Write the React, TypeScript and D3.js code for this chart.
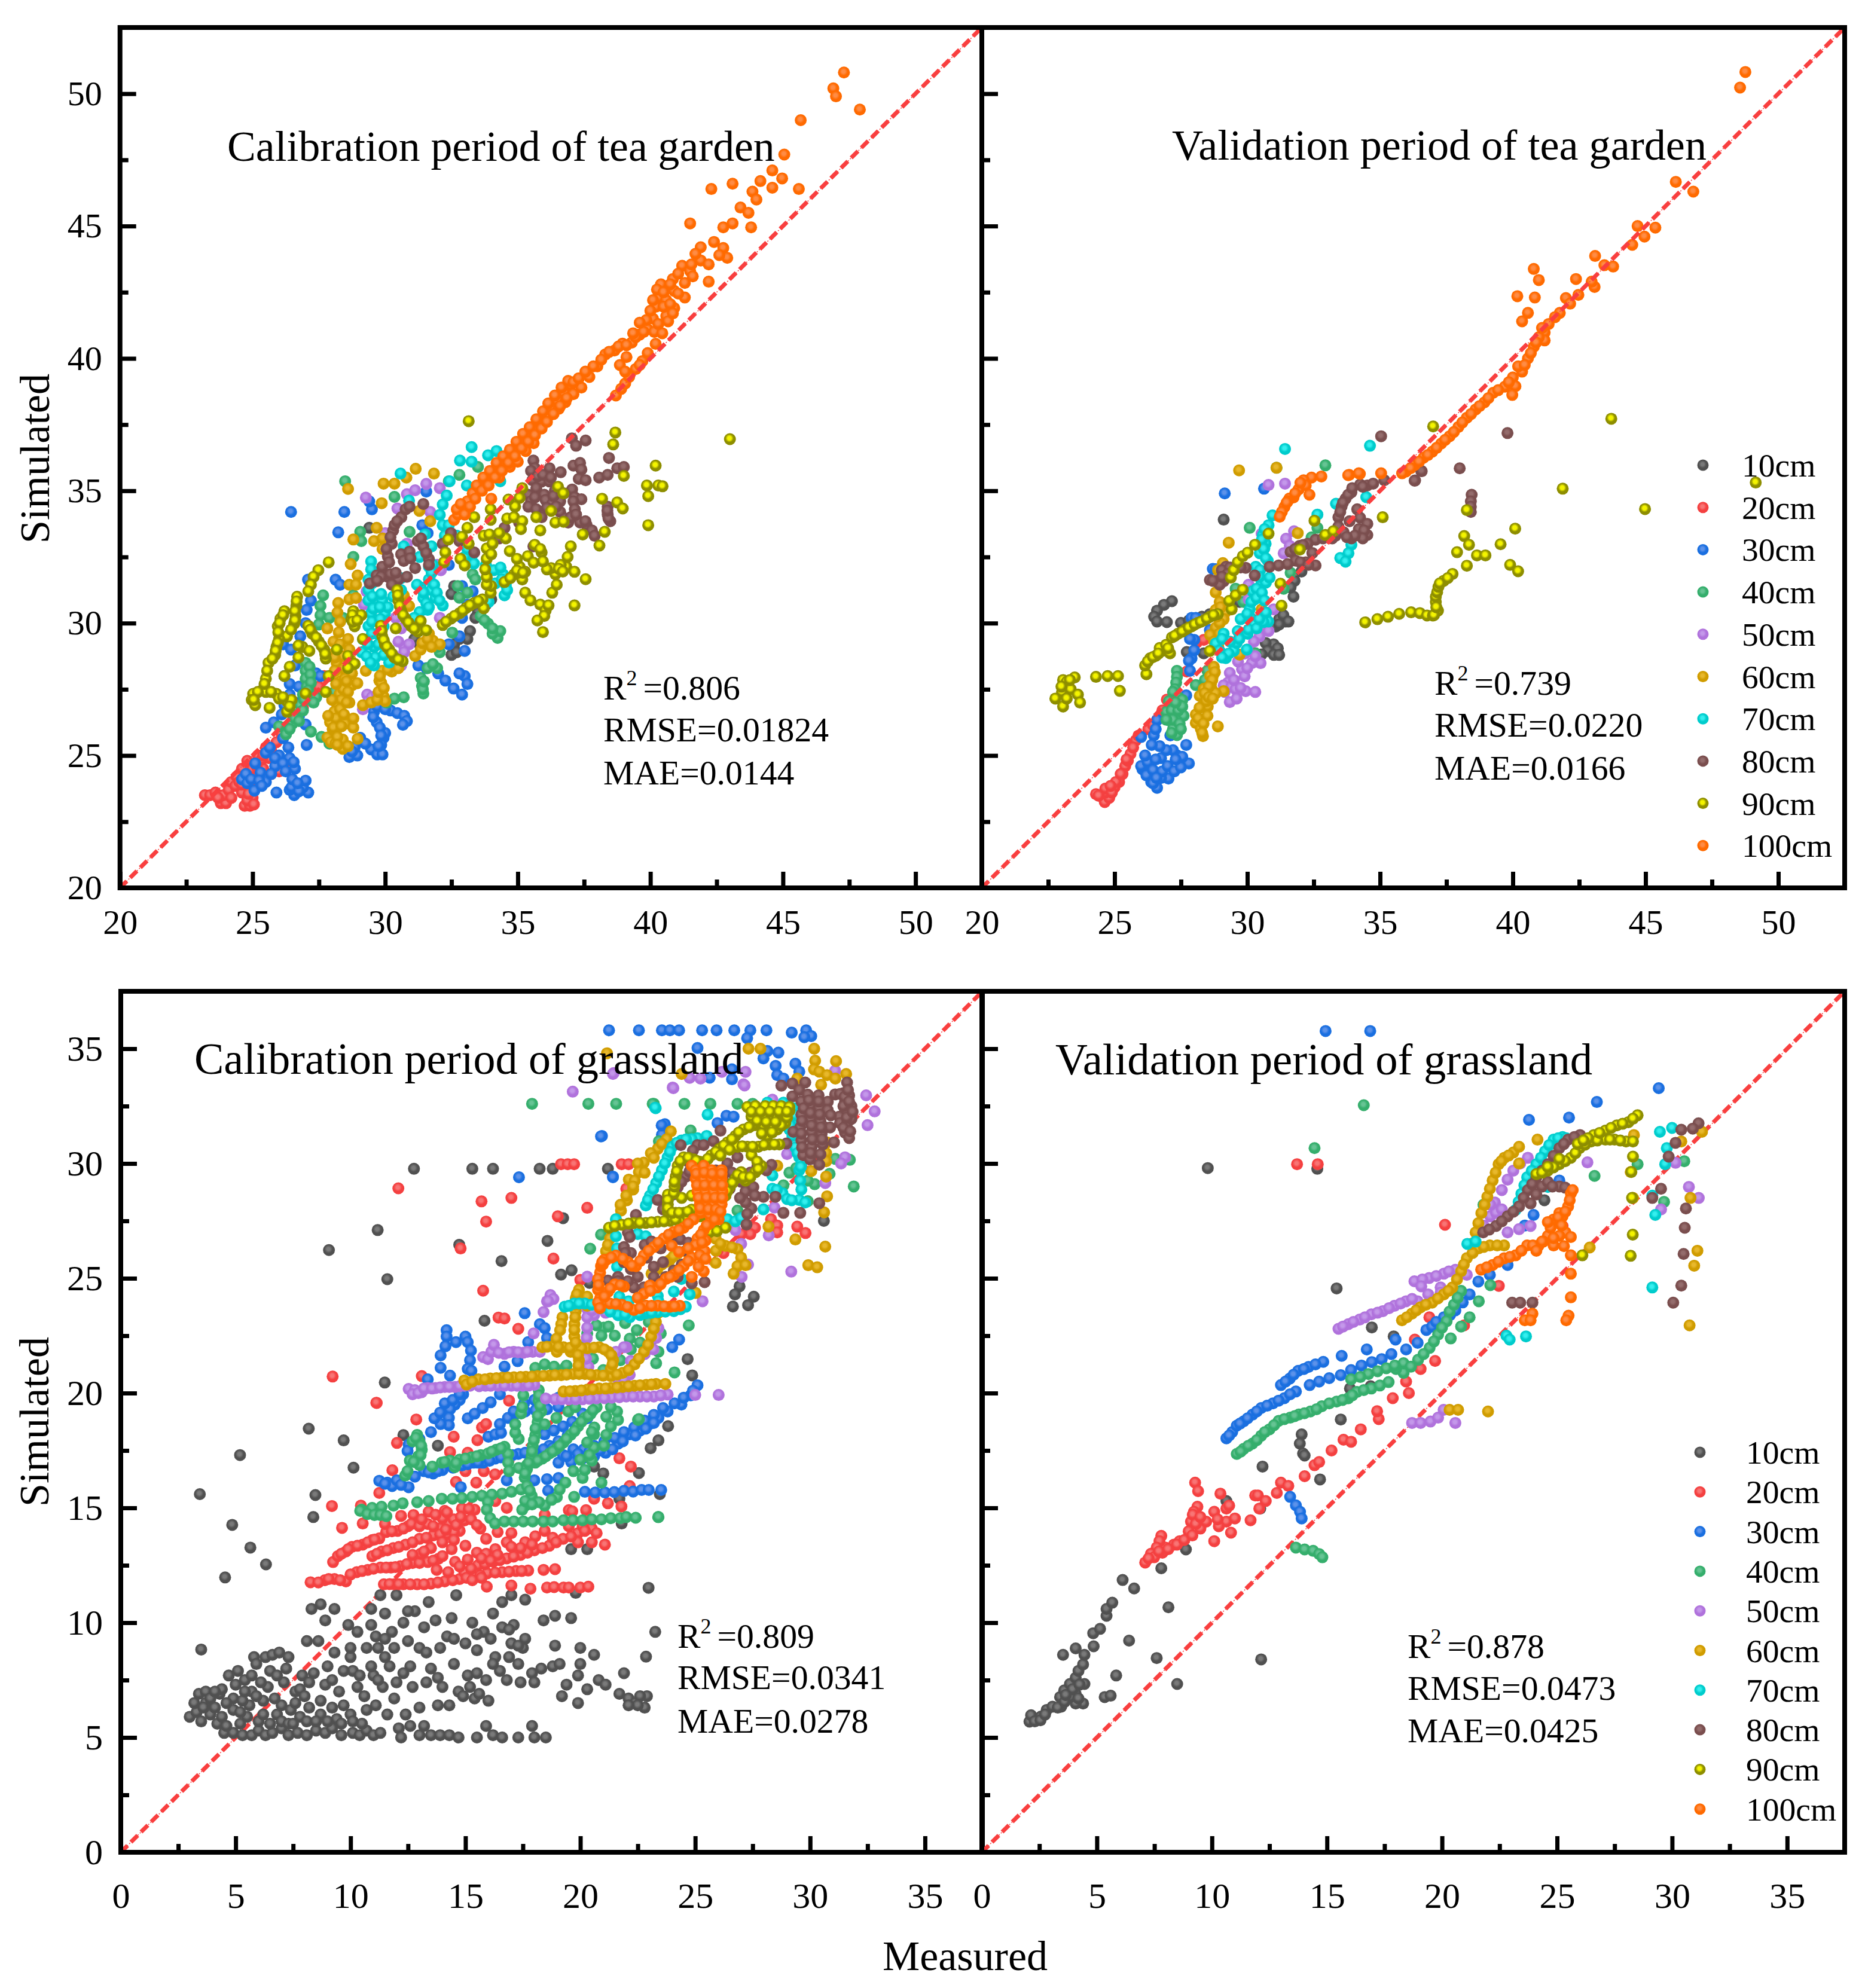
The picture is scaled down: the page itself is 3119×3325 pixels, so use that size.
import React, { useEffect, useRef } from 'react';
import * as d3 from 'd3';

const W = 3119;
const H = 3325;
const FONT = '"Liberation Serif", "Times New Roman", serif';

const depths = ['10cm', '20cm', '30cm', '40cm', '50cm', '60cm', '70cm', '80cm', '90cm', '100cm'];
const baseColors = ['#505050', '#f44040', '#1a6fe0', '#35ae6c', '#b072dc', '#d09c00', '#00cccc', '#7a4e4e', '#8e8e00', '#ff6a00'];
const glowColors = ['#7a7a7a', '#f87575', '#5c92ea', '#66c494', '#c498ea', '#e8b82c', '#35efef', '#946c6c', '#f4f400', '#ff8c45'];

// flat lists: measured, simulated, measured, simulated ...
const teaCal10 = [33.2,29.7,33.1,29.4,32.8,29.4,32.6,29.2,32.5,28.8,32.7,28.9,31.1,29.4,31.3,29.2,29.4,33.6,32.6,31.4,32.5,31.1,33.8,30.7,33.5,30.4,34,30.9,33.4,30.2];
const teaCal20 = [23.2,23.5,23.4,23.5,23.6,23.6,23.8,23.2,24,23.2,23.9,23.5,24.1,23.7,24.2,24,24.4,24.2,24.6,24.5,24.8,24.8,24.7,23.1,24.9,23.1,25,23.4,24.6,23.6,24.9,23.8,25.2,24.2,25.4,24.5,25.6,24.9,25.2,25,25.5,25.3,25.9,25.5,26.1,25.8,26.3,26.1,26.6,26.4,26.9,26.8,27.2,27.3,27.5,27.6,27.7,28,26,24.4,26.3,24.8,25.7,24.3,
  23.7,23.4,24.2,23.4,24.35,23.85,24.5,24,24.6,23.9,24.75,24.2,25,24.5,24.8,23.3,25.05,23.15,24.85,23.55,25.15,24.6,25.35,24.85,25.4,25,25.7,25.2];
const teaCal30 = [26.45,34.2,28.46,34.2,28.23,33.43,29.5,34.3,29.4,34.6,31.55,34.97,25.9,23.6,26.57,23.5,26.4,23.7,27.1,23.6,26.9,23.8,26.47,23.8,27,24.05,26.5,24.1,26.6,24.5,26.4,24.9,27.04,25.4,26.35,25.3,25.5,25.1,24.6,24.1,24.8,23.95,25.07,23.67,25.1,24.7,25.5,24,25.85,24.6,26,25,25.5,26.05,25.8,26.25,27,26.17,26.2,26.9,26,27.2,26.6,27,27.1,27.2,28.65,24.94,28.95,25,29.47,25.23,29.7,25.04,29.9,25.04,29.94,25.67,30,25.85,29.68,26.26,29.58,26.65,29.7,26.85,30.2,26.7,30.46,26.6,30.72,26.5,30.82,26.3,30.67,26.16,29.06,25.67,28.85,25.3,29.85,25.4,29.8,26.05,32.9,27.3,32.58,27.53,32.27,27.83,33,28,33.1,27.7,32.8,28.1,33,28.95,32.8,29.5,32.4,29.2,32,28.1,31.55,28.3,31.25,28.4,27.09,31.64,28.13,31.64,28.3,31.45,27.2,30.85,27.04,30.5,26.6,28.4,26.2,28,26.4,27.7,27.4,28.1,27.56,28,26.15,29.2,26.45,29,27,30,26.8,29.5,31.4,33.7,31.6,33.4,32.4,32.2,32.9,31.4,33.3,31.2,33.1,30.7,32.9,30.2,32.2,30,
  24.75,24.3,24.95,24.1,25.3,24.35,25.25,24.05,25.7,24.3,25.35,23.85,25.65,25.3,25.85,24.9,26.15,24.7,26.25,24.4,26.55,24.75,26.75,23.65,26.7,23.95,26.15,25.65,26.3,25.95,26.55,26.35,26.75,26.5,26.1,26.55,26.4,27.3,26.75,27.6,29.75,25.35,29.85,25.75,29.55,26.45,30,26.75,28.75,25.15,29.25,25.45];
const teaCal40 = [28.49,35.36,30.35,34.77,33.5,35.9,32.8,35.6,32.4,35.36,28.8,32.5,29.06,33.45,29.1,33.1,30.92,33.45,27.66,31.05,27.56,30.65,27.56,30.3,27.5,29.95,27.9,30.2,27,28.5,27,28.2,27,27.9,27.05,27.6,26.9,27.3,26.8,26.9,26.7,26.55,26.5,26.2,26.26,25.8,26.0,26.1,27.6,25.7,27.9,25.45,30.7,27.2,30.35,27.15,30.05,27,31.44,27.34,31.39,27.63,31.34,27.93,31.6,28.3,31.96,28.3,32.06,28.9,31.96,29.1,32.53,29.64,32.74,31.4,33.1,31.15,32.8,30.96,33.3,31.84,33.4,31.65,33.88,29.98,33.6,30.27,34.24,29.44,34.34,29.7,34.05,29.6,28.8,31.05,28.4,30.2,28.1,27.4,27.2,25.9,
  27.15,28.35,27.18,28.05,27.2,27.75,27.1,27.45,26.95,27.1,26.6,26.4,26.75,26.3,26.4,26,26.9,26.7,27.4,27.2,27.3,27,31.42,27.5,31.46,27.8,31.8,28.45,33.75,30.1,34.05,29.8];
const teaCal50 = [29.27,34.74,30.82,34.87,31.13,35.02,31.55,35.26,32.06,35.1,30.46,34.33,31.7,34.2,30.72,29.1,30.5,29.3,30.9,29.2,30.72,28.9,30.6,28.4,30.3,28.8,29.32,27.3,29.37,27.05,29.16,26.75,29.5,27.2,29.7,27.3,32.06,30.2,31.96,32.2,30.82,33,30,33.4,29.2,30.7,29.3,31.2,31.7,31.6,32.1,32,30.4,30.2,30.6,29.8];
const teaCal60 = [28.6,35.07,29.94,35.27,30.35,35.27,30.8,35.5,31.15,35.83,31.84,35.65,29.87,34.53,31.29,34.24,31.7,33.85,29.68,33.6,28.8,33.16,29.58,33.1,29.9,33.2,29.9,32.8,28.7,32.23,28.96,31.8,28.65,31.45,28.9,31.45,28.65,30.9,28.9,30.95,28.23,30.76,27.82,29.8,28.2,30.4,28.3,30.05,28.05,29.3,28.12,28.9,28.17,28.5,28.23,28,28.33,27.8,28.28,27.33,28.18,26.95,28.08,26.65,27.92,26.26,27.82,25.68,27.95,25.5,28.02,26,28.6,29.4,28.65,29,28.7,28.6,28.75,28.1,28.75,27.65,28.65,27,28.5,26.2,28.4,25.6,28.96,25.63,28.8,26.05,28.4,25.25,28.13,25.45,29.89,28.2,29.78,27.83,29.89,27.53,29.94,27.23,30,27.05,30.25,28.17,30.5,28.3,29.16,26.9,29.47,27,29.7,27.1,31.13,28.76,31.34,29,31.8,29.34,32.06,29.2,31.65,29.6,31.13,29.9,30.9,30.65,30.7,31.05,29.27,28.2,28.95,27.73,29.7,31.6,
  28.25,29.65,28.3,29.2,28.38,28.75,28.45,28.3,28.48,27.9,28.42,27.5,28.35,27.1,28.3,26.75,28.15,26.4,28.05,26.05,28.55,27.8,28.6,27.4,28.55,27,28.45,26.55,28.35,26.1,28.2,25.7,28.2,25.4,28.8,26.4,28.6,25.35,28.1,28.7,28.1,28.2,28.15,27.7,28,27.1,27.85,26.5,29.75,27.4,29.85,27.75,29.8,28,29.95,27.55,30.1,28.25,31.4,29.25,31.6,29.4,31.75,29.1];
const teaCal70 = [33.26,36.65,32.82,36.14,33.26,36.1,33.88,36.34,34.2,36.5,32.43,35.36,33.08,35.2,34.34,35.36,30.58,35.65,30.9,34.63,32.32,34.82,32.17,34.48,32.06,34.09,32.17,33.7,32.25,33.3,31.75,32.9,31.5,33.35,29.47,32.33,29.47,32.03,29.37,31.64,29.37,31.25,29.37,30.86,29.47,30.37,29.37,29.88,29.16,29.39,29.11,28.9,29.58,29.1,29.58,28.4,29.63,28.7,29.89,30.86,29.99,30.37,29.94,29.88,29.89,29.39,30.15,28.51,29.68,30.6,29.72,30.1,29.7,29.6,30.1,30.6,30.3,31,30.6,31.7,31.65,32.13,31.65,31.65,31.75,31.25,31.9,30.95,32.17,30.67,31.34,31.35,31.44,30.95,31.6,30.5,31.3,30.42,31.2,31.45,31.1,30.2,30.9,30,33.3,32.6,33.8,32.2,34.45,31.84,34.55,31.45,34.5,31.05,34.1,32,34.15,31.5,33.9,30.8,33,32.5,32.7,33.3,32.4,33.7,31.8,32.2,31.3,32.5,30.7,32.9,
  29.5,31.5,29.52,31,29.55,30.55,29.5,30.05,29.5,29.6,29.35,29.2,29.3,28.75,29.45,28.5,29.8,30.6,29.82,30.15,29.8,29.65,29.75,29.2,29.95,28.8,30.05,29.1,31.75,31.9,31.85,31.45,31.95,31.15,32.05,30.85,31.45,31.15,31.55,30.75,31.65,30.6,34.4,31.65,34.35,32.1,34.6,31.25,30.6,31.25,30.4,31.35,33.35,32.25,33.1,32.8,29.85,31.1];
const teaCal80 = [29.42,31.5,29.68,31.8,29.89,32.13,30.1,32.52,30.25,33,30.3,33.5,30.35,33.7,30.61,34,30.77,34.3,30.92,34.4,30.1,31.75,30.5,31.65,30.82,31.75,30.25,31.45,30.6,32.6,30.92,32.7,31.23,33.1,31.44,32.9,31.65,32.42,31.13,32.08,31.44,34.5,37.04,36.98,37.56,36.9,37.2,36.7,38.44,36.24,38.07,35.5,38.39,35.6,38.75,35.85,39,35.9,35.59,36.14,35.65,35.85,35.5,35.75,36.2,35.85,36.62,35.7,37.1,35.95,37.35,36.05,37.4,35.8,37.3,35.45,37.56,35.4,35.9,35.35,35.4,34.85,35.5,34.6,35.4,34.4,35.9,34,35.7,34.3,36.2,35.35,36,34.85,36.05,34.65,36.3,34.5,36.6,34.6,36.6,34.2,36.9,33.8,37.05,35.05,37.15,34.75,37.4,34.68,37.1,34.6,37.15,34.3,37.35,33.8,37.6,33.7,37.8,33.5,37.9,33.3,38.39,34.4,38.39,34.1,38.49,33.85,35.59,32.9,33.36,32.67,32.8,33.1,32.48,33.4,32.17,33,34.5,33.6,34.3,33.2,
  30.15,32.3,30.05,32.8,30.2,33.25,30.45,33.85,30.2,31.85,29.85,31.75,29.7,31.6,30.4,31.9,30.7,32.35,30.95,32.45,31.35,33.2,31.55,32.65,31.65,32.2,35.55,35.4,35.75,35.55,35.95,35.6,36.25,35.5,36.4,35,35.7,35.1,35.65,34.75,36.1,34.35,36.45,34.4,36.75,34.9,36.35,34.8,36.8,33.95,37,34,37.2,34.1,37.55,33.85,38.42,33.95,38.38,34.25,35.05,33.8];
const teaCal90 = [27.87,32.3,27.48,32,27.3,31.75,27.2,31.45,27.1,31.2,26.68,31,26.65,30.65,26.62,30.27,26.57,29.98,26.3,29.5,26.2,30.45,26.05,30.17,25.95,29.88,26,29.4,25.9,29.1,25.85,28.8,25.6,28.5,25.5,27.9,25.4,27.5,25.02,27.33,24.97,27.1,25.1,26.9,25.5,27.4,25.9,27.33,26,27.15,26.3,27.05,26.47,27.1,26.3,26.65,25.64,26.8,26.2,28,26.4,28.35,26.73,28.7,26.88,29.1,26.73,29.15,27.14,28.95,27,27.34,27.76,27.4,27.87,28,28.18,29,28.6,28.76,28.85,28.46,28.6,28.3,27.1,29.9,27.25,29.6,27.5,29.3,27.7,29,27.76,28.66,28.8,30.45,28.73,30.15,28.85,29.88,29.1,30.3,29.16,29.4,29.84,29.9,29.89,29.5,29.99,29.2,30.15,29,30.35,28.7,30.66,28.56,30.4,29.8,30.46,31.25,30.5,30.85,30.6,30.47,30.77,30.17,30.98,29.88,31.24,29.68,31.55,29.73,31.34,30.08,32.17,29.93,32.48,30.17,32.8,30.37,33.05,30.57,33.36,30.76,33.67,30.9,33.72,30.56,33.98,31.15,34,31.4,33.83,31.45,33.83,31.74,33.77,32.03,33.83,32.43,33.83,32.82,33.72,33.3,34.5,31.55,34.86,31.84,35.07,32.13,34.97,32.43,34.7,32.72,34.55,33.2,34.3,33.4,33.93,33.35,35.17,31.65,35.28,31.15,35.48,30.86,35.85,30.7,36.05,30.47,36,30.27,35.74,30.1,35.95,29.66,36.16,30.67,36.3,31.15,36.47,31.45,36.83,32.13,36.42,31.85,36.26,32.08,36.62,32.2,36.1,32.03,36.88,32.5,37,32.9,37.14,31.94,37.56,31.66,37.14,30.67,35.9,32.67,35.95,32.33,35.64,32.96,35.38,32.53,35.6,32.28,35.28,31.94,35.02,31.9,35.85,33.5,36.42,33.8,36.73,33.83,36.26,34.24,37.45,33.35,38.28,33.45,38.08,32.93,36.52,35.15,36.72,34.9,38.18,34.7,38.75,34.56,38.96,34.33,39,35.56,38.6,36.75,38.68,37.2,40.2,35.95,39.87,35.2,39.92,34.8,40.3,35.2,40.46,35.17,39.92,33.7,35.7,34,35.17,35.1,35.07,34.73,34.9,34.4,34.6,33.95,34.86,34,35.17,33.85,35.12,33.55,34.65,34.67,33.98,34.3,33.98,33.9,33.36,34,33.1,33.6,32.38,33.16,32.9,33.26,33.15,33,32.27,32.67,32.84,32.43,33,32.18,32.22,32.3,33.15,37.63,43,36.95,
  26.66,30.82,26.6,30.45,26.6,30.1,26.45,29.75,26.15,30.3,26.02,30,25.97,29.65,25.95,29.25,25.87,28.95,25.75,28.65,25.55,28.2,25.45,27.7,25.2,27.4,25.05,27.1,25.7,27.4,26.15,27.2,26.4,26.85,27.18,29.75,27.4,29.45,27.6,29.15,27.74,28.83,28.77,30.3,28.78,30.05,28.95,30.1,29.87,29.7,29.95,29.35,30.07,29.1,30.25,28.85,30.5,28.62,30.48,31.05,30.55,30.65,30.68,30.3,30.88,30.02,31.1,29.78,32.3,30.05,32.62,30.27,32.93,30.47,33.2,30.67,33.52,30.83,34.72,31.7,34.97,31.98,35.85,32.8,36.55,32.05,36.7,31.95,35.2,31.9,34,32.6,34.05,33];
const teaCal100 = [32.6,33.9,32.75,34.1,32.9,34.35,33.1,34.6,33.3,34.9,33.55,35.1,33.8,35.4,34.05,35.7,34.3,36,34.55,36.25,34.8,36.5,35.05,36.8,35.3,37.1,35.55,37.35,35.8,37.6,36,37.9,36.25,38.15,36.5,38.4,36.75,38.7,37,39,36.2,37.85,36.55,38.1,36.8,38.35,37.1,38.65,37.4,38.9,37.7,39.3,38,39.7,38.3,40.15,38.65,40.3,38.95,40.56,39.3,40.6,39.6,40.9,39.9,41.1,40.1,41.5,40.2,41.95,40.3,42.3,40.4,42.8,40.6,42.2,40.9,42.55,41.2,43.5,40.85,43,41.5,43.3,41.9,43.7,41.9,44.2,41.6,43.1,41.3,42.3,40.9,41.9,40.6,41.6,40.15,41,38.7,38.6,38.9,38.85,39.05,39.05,39.2,39.3,39.45,39.6,39.7,39.9,39.9,40.2,40.2,40.55,40.45,40.95,40.67,41.4,35,36.1,35.3,36.5,35.6,36.8,34.3,35.5,34.7,35.9,42.4,44.4,42.75,44.17,41.5,45.1,42.9,43.8,42.2,42.9,42.2,43.55,42.6,43.9,46.9,50.2,47,49.9,47.3,50.8,47.9,49.4,45.67,49,45.05,47.7,44.97,46.8,45.6,46.4,44.6,47.1,44.6,46.45,44.15,46.7,43.1,46.6,42.3,46.4,43.85,46.3,44,46,43.4,45.7,43.7,45.5,43.8,44.95,43.1,45.1,42.75,44.95,34,34.7,
  32.7,34.3,32.85,34.5,33,34.1,33.2,34.4,33.4,34.7,33.45,35.2,33.65,35,33.7,35.5,33.9,35.2,33.95,35.75,34.15,35.5,34.2,36.05,34.4,35.75,34.45,36.3,34.65,36.05,34.7,36.55,34.9,36.3,34.95,36.85,35.15,36.6,35.2,37.15,35.4,36.85,35.45,37.4,35.65,37.1,35.7,37.7,35.9,37.35,35.95,38,36.1,37.6,36.15,38.3,36.35,37.9,36.4,38.6,36.6,38.2,36.65,38.9,36.85,38.5,36.9,39.15,37.1,39.1,37.3,39.25,37.55,39.5,37.85,39.7,38.15,39.95,38.45,40.25,38.8,40.45,39.1,40.5,39.45,40.8,39.75,41,39.85,41.45,40,41.8,40.1,42.2,40.25,42.6,40.5,42.5,40.75,42.8,41.05,43.2,41.3,42.85,41.55,43.55,41.7,43.95,40.3,41.3,40.5,41.95,40.75,42.05,41.05,42.45,40.85,41.7,39.6,41.35,39.35,40.95,39.1,40.05,38.85,39.75,39.6,39.75,39.05,39.5];

const teaVal10 = [27.16,30.83,26.86,30.69,26.6,30.47,26.49,30.24,26.6,30.06,26.97,30.04,27.5,30.01,27.8,30.1,28.29,30.24,28.59,30.34,29.11,33.91,27.72,28.91,28.36,28.86,31.74,31,31.78,31.6,31.63,31.35,32.04,31.95,31.44,30.06,31.2,30.15,31.07,29.87,31.36,30.3,31.55,30.06,31.2,29.95,30.99,29.2,30.69,29.25,31.15,29.05,30.77,28.95,30.54,28.82,31,28.8,31.2,28.8,30.3,28.86,29.71,30.8];
const teaVal20 = [24.3,23.54,24.63,23.24,24.8,23.4,24.65,23.6,25.17,24,25.4,24.6,25.6,25.06,25.8,25.57,26.27,25.99,26.6,26.34,27.03,27.04,24.65,23.75,24.4,23.48,25,23.8,25.05,24,25.3,24.3,25.5,24.8,27.72,28.17,28.1,29.27,28.36,29.37,26.97,27.11,
  25.23,24.3,25.45,24.85,25.7,25.3,25.9,25.75,24.9,23.6,24.85,23.85,26.45,26.15,26.8,26.7,27.25,27.45];
const teaVal30 = [26.05,24.48,26.38,24,26.6,23.78,26.4,24.1,27.03,24.13,27.8,24.7,27.7,25.4,27.36,25,26.75,24.9,26.35,24.65,26,24.6,26.48,25.76,26.6,26.34,27.1,25.76,27.4,26.2,27.7,27.27,27.84,28.2,27.9,28.67,28,29.37,28.7,32.05,29.15,34.9,30.63,35.08,27.36,26.8,27.9,30.2,26,25.7,27.84,29.4,28,28.97,27.8,28.58,28.06,30.2,28.59,29.74,28.81,32.04,
  26.2,24.25,26.25,24.75,26.45,24.45,26.55,24.85,26.75,24.15,26.8,24.4,27,24.6,27.25,24.4,27.5,24.55,27.55,24.95,27.2,25.2,26.95,25.2,26.7,25.35,26.55,26,26.4,25.4,26.15,25,26.45,23.95,26.58,24.15,27.3,24.85];
const teaVal40 = [27.35,28.2,27.35,27.97,27.32,27.75,27.28,27.5,27.4,27.2,27.55,27.1,27.6,26.5,27.05,26.33,27.35,26.3,27.35,25.77,27.2,26,27.45,26.9,26.95,26.65,28.06,27.66,28.4,27.85,28.5,28.2,30.09,33.6,32.94,35.96,31.1,35.87,32.64,33.6,32.42,33.24,31.63,31.9,31.37,31.3,29.56,31.3,29.86,30.8,30.3,28.86,
  27.2,27.4,27.05,27.05,27.15,26.7,27.4,26.7,27.2,26.35,27.45,26.2,27.55,26.85,27.15,25.85,27.5,26,26.95,26.35,27.3,27];
const teaVal50 = [30.8,35.22,31.42,35.27,31.76,33.47,31.46,33.19,31.6,32.92,31.37,32.64,30.54,33.38,30.05,31.45,30.1,31.2,30.05,30.9,30.99,30.52,30.61,29.87,30.46,29.5,30.25,29.3,30,29,30.5,28.49,30.17,28.49,29.8,28.26,29.9,27.99,29.94,27.43,29.34,28.12,29.27,27.75,29.11,27.65,29.34,27.02,29.41,27.6,29.56,27.5,30.3,27.4,
  29.5,27.85,29.15,27.4,29.6,27.15,29.75,27.55,30,28.3,30.3,28.75,30.7,30.2,30.8,29.7,29.65,28.55,29.9,28.85];
const teaVal60 = [29.69,35.77,31.1,35.87,31.9,33.4,29.3,33.04,29.08,32.27,28.9,32,28.81,31.16,28.96,30.8,28.81,30.5,29.19,30.43,29.11,30.15,28.81,29.83,28.96,30,30.54,30.52,29.71,28.81,28.74,28.35,28.7,28,28.63,27.7,28.36,27.52,28.21,27.25,28.33,26.9,28.06,26.55,28.06,26.23,28.25,26,28.33,25.73,28.3,26.35,28.66,27.5,28.89,26.1,29.11,27.43,28.81,27.35,28.51,26.85,28.6,28,
  28.78,28.15,28.68,27.85,28.55,27.6,28.4,27.35,28.45,27.05,28.2,26.8,28.15,26.4,28.5,26.5,28.35,26.2,28.3,25.85,28.6,29.55,28.75,29.3,28.95,29.6,28.9,29.15,29,30.6,28.85,30.25,28.55,27.2,28.7,27.15];
const teaVal70 = [31.42,36.58,34.62,36.7,30.95,34.07,30.8,33.7,32.64,34.1,33.34,34.51,34.48,34.76,33.92,32.96,33.81,32.64,33.5,32.46,33.7,32.32,30.58,33.32,30.69,33,30.47,32.64,30.77,32.36,30.32,32.13,30.64,32.82,30.54,31.53,30.7,31.53,30.28,30.9,30.09,30.52,29.75,30.15,30.84,31.72,30.2,31.2,30.79,30.06,30.12,30.2,28.81,29.23,28.96,28.95,29.19,28.68,29.49,28.95,29.11,29.6,29.64,29.7,30.01,29.6,30.27,29.95,30.61,30.04,29.98,29,29.6,29.25,
  30.55,33.15,30.62,32.8,30.7,32.45,30.48,32,30.45,31.75,30.35,31.3,30.15,30.8,30,30.35,30.35,30.95,30.55,31.15,30.65,30.85,30.05,29.75,30.35,29.8,29.35,29.3,29.05,29.4,29.3,28.85,29.05,28.7,29.7,29.4,30.45,30.15,30.7,30.4,30.65,33.55];
const teaVal80 = [35.04,37.06,36.55,35.75,36.32,35.39,35.16,35.4,39.8,37.18,38,35.85,36.57,35.74,36.3,35.38,38.45,34.85,38.42,34.6,38.42,34.4,38.42,34.2,34.25,35.24,34.52,35.2,34.74,35.27,33.92,34.94,33.7,34.7,33.55,34.4,33.43,34,34.14,34.3,34.25,33.98,34.52,33.75,34.52,33.33,34.2,33.55,33.92,33.2,33.63,33.43,33.43,33.65,33.85,33.85,33.32,33.3,32.57,33.15,32.27,33,31.97,32.92,31.63,32.69,31.82,32.36,31.52,32.23,31.18,32.18,30.84,32.13,32.2,32.3,32.57,32.18,32.45,32.65,30.28,31.8,29.94,32.09,29.56,32.13,29.2,32.13,29.04,32,29.11,31.58,28.81,31.58,28.59,31.63,28.96,31.45,
  33.8,34.85,33.95,35.1,34.35,35.15,33.6,34.55,33.5,34.2,34.4,33.5,34.35,33.2,34.05,33.3,33.75,33.25,33.2,33.2,33,33.25,32.85,33.2,32.1,32.95,31.8,32.8,32,32.3,32.3,32.2,29.35,32.1,29.75,32.1,29.25,31.85,28.7,31.6,29.05,31.75];
const teaVal90 = [23.06,27.85,23.2,27.78,23.5,27.95,23.02,27.4,23.35,27.5,23.62,27.3,23.7,27,22.77,27.15,23.06,26.85,23.2,27.15,23,27.6,23.32,27.85,24.3,27.97,24.74,28,25.13,28,25.2,27.44,26.2,28.07,26.15,28.4,26.34,28.67,26.56,28.77,26.79,28.95,26.7,29.06,27.09,28.86,26.94,29.18,27.16,29.46,27.39,29.6,27.69,29.77,27.91,29.88,28.14,30.01,28.36,30.1,28.59,30.24,28.89,30.34,28.59,28.95,29.41,30.52,29.32,30.84,29.56,31.05,29.83,31.26,29.38,31.72,29.49,32,29.64,32.3,29.83,32.53,30.01,32.66,30.29,32.96,30.8,33.38,31.25,31.49,31.29,30.66,32.53,33.87,32.94,33.33,33.24,33.47,31.98,32.78,35.1,34,37,37.43,34.44,30.03,34.9,30.15,35.3,30.24,35.72,30.35,36.17,30.41,36.5,30.38,36.77,30.29,36.99,30.29,37.18,30.47,37.1,30.8,37.1,31,37.15,31.17,37.2,31.37,37.4,31.6,37.73,31.86,37.9,32.68,38.27,32.17,38.17,33.29,38.35,32.96,38.65,32.56,38.97,32.56,39.54,32.98,39.9,32.2,40.2,31.96,40.09,33.57,38.27,34.27,41.88,35.08,44.98,34.31,43.71,37.72,49.15,35.31,
  26.25,28.55,26.45,28.72,26.65,28.85,27.02,29.05,27.27,29.52,27.55,29.68,27.8,29.83,28.02,29.95,28.25,30.05,28.48,30.17,28.73,30.3,37.03,30.3,37.12,30.6,37.25,31.5,37.55,31.7];
const teaVal100 = [48.56,50.23,48.76,50.82,46.14,46.67,46.8,46.3,44.7,45,44.96,44.6,45.37,44.94,44.5,44.29,43.1,43.87,43.45,43.52,43.78,43.47,43.08,42.7,42.97,42.9,42.47,42.4,42.38,43,42,42.28,42.16,42.07,40.79,43.38,40.98,42.96,40.17,42.35,40.83,42.3,40.57,41.72,40.35,41.4,41.77,41.72,41.59,41.56,41.35,41.3,41.2,40.98,41.2,40.68,40.98,40.8,40.79,40.44,40.57,40,40.35,39.5,40,39.28,40.1,38.95,39.98,38.62,39.7,38.93,39.26,38.7,38.93,38.34,38.6,38.07,38.27,37.76,37.95,37.41,37.62,37.06,37.3,36.78,36.97,36.48,36.64,36.25,36.3,35.97,35.98,35.73,35.83,35.66,35.04,35.66,34.24,35.64,33.84,35.6,34.2,35.66,33.8,35.59,32.79,35.54,32.42,35.5,32.12,35.4,31.93,35.05,32.2,35.2,32.34,34.85,31.74,34.75,31.59,34.71,31.4,34.39,31.3,34.2,31.22,34.02,31.52,34.6,
  36.15,35.85,36.47,36.1,36.8,36.35,37.13,36.62,37.45,36.92,37.78,37.22,38.1,37.58,38.43,37.9,38.75,38.2,39.08,38.5,39.45,38.8,39.85,39.1,40.2,39.7,40.45,39.75,40.68,40.2,40.88,40.6,41.1,41.15,31.8,34.9,32,35.3,31.48,34.55];

const grassCal10 = [3.44,15.6,5.19,17.3,4.85,14.26,5.64,13.27,4.54,11.97,6.32,12.54,3.5,8.83,9.06,26.23,11.18,27.1,11.6,24.96,12.76,29.77,15.3,29.77,16.2,29.77,18.23,29.77,18.8,29.77,21.2,29.77,8.18,18.45,9.7,17.94,10.13,16.75,8.47,15.56,8.38,14.6,11.49,20.46,12.3,18.17,13.8,17.71,14.73,26.46,16.57,25.75,18.57,26.63,15.83,23.15,19.16,25.16,19.62,25.35,20.4,24.8,19.25,27.62,22.97,11.52,23.26,9.6,22.86,8.52,26.64,23.77,27.3,23.83,27.55,24.2,26.93,24.65,26.73,24.3,30.6,27.5,24.67,21.48,24.87,20.77,23.82,18.56,23.4,17.94,23.06,17.6,22.55,16.52,23.46,15.6,21.8,14.32,20.3,13.2,19.6,13.2,21.7,15.4,21,16.5,20.6,16.8,
  4.5,5.2,4.9,5.2,5.3,5.1,5.7,5.1,6,5.3,6.3,5.1,6.6,5.2,7,5.4,7.3,5.1,7.7,5.2,8.1,5.1,8.5,5.3,8.9,5.2,9.2,5.4,9.6,5.1,10.1,5.2,10.4,5.1,10.7,5.3,11,5.1,11.3,5.2,12.1,5.4,12.2,5,12.6,5.5,13,5.1,13.2,5.5,13.5,5.1,13.9,5.1,14.3,5.1,14.7,5,15.5,5,15.9,5.5,16.2,5.1,16.6,5,17.3,5,17.9,5.5,18,5,18.5,5,
  3,5.9,3.3,6.1,3.2,6.5,3.4,6.9,3.7,6.5,3.7,7,3.5,5.7,3.9,6,4.2,5.6,4.1,6.3,4.4,5.9,4.3,6.9,4.4,7.1,4.7,7.7,4.9,6.2,4.9,6.7,5,7.3,5.1,7.9,5.2,5.6,5.5,5.9,5.6,6.4,5.7,7,5.8,8.5,5.9,8.2,6,5.7,6.2,6.6,6.3,8.5,6.4,7.2,6.5,7.9,6.6,8.6,6.8,6,6.9,8.7,7,5.7,7,6.4,7.1,7.4,7.2,8,7.3,8.5,7.4,6.2,7.6,7,7.8,5.9,7.9,7.7,8.2,6.3,8.2,7.4,8.3,10.6,8.1,9.2,8.6,9.2,8.4,7.8,8.7,6,8.7,10.8,8.9,10.1,9,8.1,9.3,10.6,9.4,5.8,9.5,7,9.3,8.7,9.7,6.4,9.9,9.9,10,6,10,8.5,10.1,7.9,10.3,7.2,10.3,9.6,10.5,5.6,10.6,6.8,10.7,8.9,10.9,10.6,11,7.7,11.1,6.4,11.1,9.4,11.2,8.9,11.3,11.2,11.4,7.2,11.5,10.4,11.6,6,11.7,8.1,11.8,9.6,11.9,6.7,12,7.4,12,11.2,12.3,10,12.4,6,12.5,9.2,12.6,8.1,12.7,7.2,12.8,10.5,13,6.3,13,8.9,13.2,9.8,13.3,7.4,13.4,10.9,13.5,8,13.7,10.1,13.8,6.4,13.9,8.9,14,7.2,14.2,9.4,14.3,6.4,14.4,10.2,14.5,8.2,14.6,11.2,14.7,7,14.9,6.8,15,9.1,15.1,7.7,15.3,10,15.4,6.7,15.5,8.8,15.6,6.9,15.8,9.6,15.9,7.5,16,6.6,16.1,9.3,16.2,10.4,16.3,8.5,16.5,7.9,16.6,9.8,16.6,10.9,16.8,7.5,16.9,8.5,17,11.2,17,9.1,17.1,9.9,17.3,8.2,17.4,7.4,17.5,8.9,17.6,11,17.6,9.3,17.9,7.8,18,7.4,18.4,10.1,18.3,8,18.8,8.1,18.9,9,18.9,10.3,19.2,6.8,19.1,8.2,19.4,7.3,19.6,10.2,19.8,11.3,20,8.9,19.9,6.5,19.9,7.7,20,8.2,20.3,7.1,20.6,8.6,20.8,7.5,21.1,7.3,21.9,7.8,21.7,6.9,22.1,6.7,22.4,6.5,22.8,6.3,22.9,6.8,22.6,6.8,22.5,6.4,22.1,6.4,
  3.6,6.3,3.9,6.7,4.1,7,4.6,6.5,4.6,5.5,5.2,6.1,5.3,6.6,5.4,7,5.4,7.5,5.7,7.7,5.9,6.8,6.1,7.4,6.2,6,6.5,5.6,6.7,6.7,6.8,7.7,7.3,5.6,7.5,5.6,7.6,6.5,7.8,7.1,8,6.8,8.1,5.7,8.5,5.7,8.7,6.6,8.9,7.3,9,5.7,9.2,6.3,9.2,7.5,9.6,5.6,9.7,7.9,10,8.9,10.1,5.7,10.4,7.7,10.7,6.2,10.9,8.1,10.9,9.9,11.2,7.5,11.5,8.5,11.5,9.3,11.9,8.9,12.3,7.8,12.5,10.5,13.3,8.7,13.8,7.6,14.5,9.3,15.2,7.2,15.5,7.8,15.5,9.5,16.2,8.2,16.9,9.7,17.3,9];
const grassCal20 = [8.26,11.76,8.88,11.85,9.3,11.9,9.8,11.8,10.27,12.2,10.75,12.3,11.3,12.4,11.76,12.4,12.17,12.46,12.7,12.6,13.36,12.64,13.82,12.78,14.4,13.2,11.45,11.67,11.9,11.67,12.3,11.67,12.9,11.67,13.5,11.7,14.1,11.8,14.75,11.9,15.35,12,15.95,12.15,16.6,12.2,17.2,12.25,17.73,12.27,14.95,12.2,15.55,12.5,16.2,12.65,16.8,12.8,17.4,12.95,18,13.15,18.65,13.35,19.25,13.65,19.9,13.9,20.5,14.1,18.4,12.3,18.9,12.33,18.55,11.53,18.86,11.55,19.27,11.53,19.5,11.53,20,11.53,20.35,11.57,17.83,11.48,17,11.62,15.93,11.57,9.24,12.64,9.45,12.9,9.8,13.1,10.06,13.3,10.53,13.4,10.95,13.6,11.25,13.67,10.95,12.9,11.35,13.1,11.86,13.25,12.4,13.4,13,13.65,13.6,13.8,14.2,13.85,14.75,14,11.55,13.95,12.05,14,12.5,14.2,12.8,14.35,11.5,14.3,12.2,14.65,12.74,14.69,13.35,14.3,13.9,14.1,14.3,14.35,14.95,14.45,15.4,14.92,14.85,14.97,14.1,14.87,14,14.55,13.4,14.83,14.49,14.5,15.15,14.95,15.25,14.5,15.65,14.1,16.4,13.95,17,13.9,17.6,13.5,18.04,13.76,18.8,13.7,19.5,14.2,20.1,14.2,20.71,13.9,20.5,13.5,21.07,13.4,19.9,13.5,19.5,14.9,19.65,14.85,20.25,14.9,20.6,15.4,21.2,15.2,21.79,15.06,18.45,14,18.45,14.7,18,15.3,16.8,15,16.3,15.3,16.9,19.67,15.47,16.1,14.59,16.13,14.33,17.43,14.49,18.1,15.1,17.4,15.52,17.95,15.72,18.5,15.9,18.65,16.29,16.46,15.8,16.6,15,16.6,11.82,16.64,12.02,17.83,12.86,18.85,11.14,19.57,9.22,20.72,11.25,15.65,9.19,15.08,10.53,14.32,9.63,14.13,10.45,15.1,13.1,20.74,15.77,24.46,16.44,23.29,16.7,23.25,17.3,22.8,21.7,17.16,22.2,16.8,22.15,15.95,12.08,28.92,15.7,28.35,15.9,27.47,14.79,26.3,17,28.5,19.02,27.7,18.83,25.86,19.16,29.97,19.45,29.97,19.73,29.97,20.3,28.07,21.8,29.97,22.1,29.97,20,24.93,11.12,19.58,22,28.9,27.6,27.2,28.3,27.57,28.57,27.3,28.57,27,29.44,27.25,29.8,26.97,27.4,26.92,27,26.92,26.23,26.1,25.97,26.2,
  8.6,11.75,9.05,11.9,9.55,11.85,10,12.1,10.5,12.25,11,12.35,11.55,12.4,11.95,12.42,12.45,12.55,13,12.6,13.6,12.7,11.7,11.68,12.1,11.67,12.6,11.67,13.2,11.67,13.8,11.75,14.45,11.85,15.05,11.95,15.65,12.05,16.3,12.18,16.9,12.22,17.45,12.25,15.25,12.35,15.85,12.55,16.5,12.72,17.1,12.88,17.7,13.05,18.35,13.25,18.95,13.5,19.6,13.75,20.2,14,9.6,13,9.9,13.2,10.3,13.35,10.75,13.5,11.05,13.62,11.15,13,11.6,13.15,12.1,13.3,12.7,13.5,13.3,13.7,13.9,13.85,14.5,13.95,11.8,13.98,12.3,14.1,12.65,14.3,13,14.2,13.6,14.2,14.15,14.05,14.6,14.25,14.8,14.6,13.7,14.7,14.2,14.8,13.1,14.5,15.5,14.25,15.9,13.65,16.3,13.2,16.8,13.5,17.4,13.25,17.9,13.4,13.05,13,13.5,13.25,14,13.5,14.5,13.6,15,13.35,15.5,13.05,15.9,13,16.4,12.95,12.7,12.95,13.2,13.1,14,12.9,14.55,12.65,15.1,12.75,15.7,12.8,16.1,12.7,17,13.3,13.75,12.3,14.25,12.2,14.75,12.45,15.3,11.85,15.7,11.95];
const grassCal30 = [21.25,35.8,22.55,35.8,23.55,35.8,23.9,35.8,24.3,35.8,25.3,35.8,25.93,35.8,26.7,35.8,27.4,35.8,28.1,35.8,29.2,35.7,29.83,35.8,30.05,35.55,29.75,35.5,27.26,35.46,25.1,35.03,28.14,34.9,28.62,34.83,27.97,34.58,28.5,34.25,29.36,34.35,29.53,34,28.57,33.85,28.84,33.7,25.63,33.74,26.6,33.67,26.6,34.1,26.36,32.08,26.67,32.04,25.97,31.76,23.68,31.71,20.94,31.2,23.55,31.25,21.42,29.43,14.18,22.74,14.18,22.46,14.13,22.04,13.92,21.64,13.92,21.1,14.33,20.76,14.59,22.22,15,22.46,15.1,22.22,15.24,21.85,15.2,21.43,15.1,21.05,15.26,20.97,13.36,20.6,16.7,21.15,17.27,21.39,17.73,22.22,18.24,23,18.45,22.83,18.55,22.4,17.58,23.48,14.9,19.95,14.75,19.7,14.54,19.5,14.33,19.3,14.28,18.92,14.28,18.6,13.92,18.65,13.5,18.3,13,18,12.53,17.76,12.48,17.48,15.1,18.9,15.4,19.1,15.75,19.35,16.1,19.6,16.5,19.95,16,18.1,16.3,18.2,16.55,18.27,16.5,18.65,16.85,18.92,17.2,19.1,17.6,19.2,18.05,19.25,18.55,19.3,19.05,19.4,11.25,16.18,11.6,16.1,11.81,15.95,12.02,16.2,12.53,15.9,12.8,16.36,13.2,16.6,13.6,16.5,14,16.65,14.85,16.85,15.35,16.97,15.77,16.97,16.3,17.15,16.8,17.25,17.3,17.35,14.8,15.9,20.2,15.7,20.65,15.67,21.07,15.67,21.48,15.69,21.9,15.74,22.3,15.71,22.67,15.78,22.98,15.78,23.52,15.78,16.8,16.2,18,16.2,18.55,16.25,19.05,16.3,18.6,15.75,23.8,19.2,23.4,18.92,23,18.64,22.6,18.37,22.15,18.2,21.65,17.8,21.1,17.4,20.6,17.25,20.1,17.15,19.6,17,19.05,16.97,25.1,20.34,24.8,19.9,24.4,19.5,18.45,18.2,18.85,18.37,19.25,18.55,19.65,18.75,20.1,19.1,18.65,17.7,19.05,17.9,19.45,18.17,19.85,18.55,20.3,18.9,24.3,22.33,24,22,23.54,31.66,20.9,31.18,21.42,29.4,17.33,29.4,
  11.5,16.05,12.2,16,13.4,16.55,13.8,16.6,14.45,16.75,15.1,16.9,15.55,16.97,16.05,17.05,16.55,17.2,17.05,17.3,17.6,17.4,18,17.45,18.4,17.55,18.8,17.6,19.25,17.3,19.7,17.55,20.15,17.55,20.6,17.7,21.05,17.9,21.5,18.05,21.9,18.3,22.35,18.5,22.8,18.8,23.2,19.05,23.6,19.35,24.1,19.55,24.5,19.8,24.9,20.1,21.4,17.55,21.85,17.9,22.4,18.15,22.85,18.45,23.2,18.7,19.4,17.25,19.9,17.35,20.4,17.45,20.85,17.5,17.1,19.2,17.55,19.55,18,19.7,18.5,19.75,19.05,19.8,19.55,19.75,20.1,19.75,13.65,18.9,13.9,19.15,14.1,19.55,14.45,19.7,14.75,19.95];
const grassCal40 = [10.48,14.92,10.94,15,11.35,15.05,11.87,15.1,12.27,15.2,12.9,15.25,13.4,15.3,13.97,15.4,14.44,15.4,14.85,15.43,15.3,15.48,15.72,15.53,16.15,15.58,16.6,15.62,17,15.7,17.42,15.8,10.42,14.87,10.73,14.73,11.04,14.69,11.3,14.69,11.56,14.64,15.98,15.25,15.93,14.92,16.08,14.55,16.29,14.32,16.7,14.41,17.11,14.41,17.52,14.41,17.93,14.41,18.4,14.41,18.8,14.41,19.27,14.46,19.68,14.46,20.1,14.46,20.5,14.5,20.92,14.5,21.33,14.55,21.74,14.55,22,14.6,22.41,14.57,23.39,14.6,12.38,16.41,12.48,16.6,13,16.87,13.56,16.8,13.97,16.97,14.33,17.06,14.54,16.78,14.75,17.1,15.26,17.2,15.67,17.3,15.98,17.37,16.34,17.53,16.7,17.66,16.86,17.34,16.86,16.97,16.9,16.6,17.32,16.74,17.68,16.87,18.04,16.97,18.35,17.15,18.66,17.37,18.96,17.57,19.27,17.85,19.58,18.18,19.9,18.55,20.2,18.92,20.45,19.1,20.71,19.39,12.9,18.18,13,17.9,13.1,17.53,12.95,17.25,13,16.87,12.58,17.06,12.7,17.9,18.19,20.13,18.19,19.67,18.3,19.2,18.14,18.74,18.04,18.17,17.93,17.7,17.88,17.25,17.68,16.69,17.58,16.32,17.68,15.95,17.88,15.53,17.63,15.11,17.47,14.92,17.32,18,17.17,18.27,17.17,18.64,17.42,19.11,17.47,19.39,17.52,19.9,18.45,15.1,18.98,15.47,19.73,15.48,20.1,16.3,20.5,17.06,20.6,17.62,21.03,17.71,21.13,18.18,21.33,18.55,21.64,18.83,21.6,19.2,21.33,19.4,18.45,18.64,18.96,18.92,19.48,19.2,19.78,19.39,20.61,18.5,21.13,18.97,22.51,18.83,20.92,16.1,18.04,21.1,18.45,21.25,18.86,21.15,19.33,21.1,21.02,22.85,21.23,22.9,21.95,23.05,22.46,22.74,20.92,22.5,22.15,22.37,22.98,23.1,23.18,22.37,23.4,21.8,21.74,21.43,17.9,32.6,20.35,32.6,21.56,32.6,23.2,32.6,24.53,32.6,25.66,32.6,26.84,32.6,27.5,32.6,24.8,31.44,20.9,26.9,20.43,26.29,24.1,20.9,22.55,18.87,23.4,14.6,24.72,22.95,31.9,29,31.73,30.16,23.15,32.6,23.42,30.97,31.1,30.2,30.85,29.55,30.2,29.1,29.9,29.25,29.1,29.6,28.84,29.05,29.4,29.8,29.9,28.36,26.84,27.95,
  12.85,18.05,13.08,17.7,13.05,17.3,12.75,17,14.1,17,14.6,16.95,15,17.15,15.5,17.25,16.15,17.45,16.55,17.6,18.15,17.05,18.5,17.25,18.8,17.45,19.1,17.7,19.4,18,19.75,18.35,20.05,18.75,20.35,19,20.55,19.25,18.05,18.45,18.15,19,18.25,19.45,18.2,19.9,17.98,17.95,17.9,17.45,17.75,16.95,17.6,16.5,17.8,15.75,17.6,15.3,20.2,16.65,20.4,17.3,20.6,18.2,20.5,18.3,20.3,17.85,20,17.1,19.7,16.6,19.35,16.1,19.1,15.8,18.75,15.35,18.2,15.25,17.9,15.15,19.55,20,20.05,22,20.55,21.5,21,21,19.4,21.2,20.3,22.6,20.7,22.95,21.5,22.5,22.2,21.9,22.6,22.2,23.3,21.3,23.5,22.6];
const grassCal50 = [23.8,19.94,23.2,19.85,22.6,19.85,22,19.85,21.37,19.8,20.7,19.77,20.1,19.73,19.5,19.73,18.9,19.73,18.5,19.76,12.53,20.18,12.8,20.13,13.1,20.04,13.36,20.22,13.7,20.22,14.1,20.27,14.54,20.27,14.95,20.32,15.87,20.32,16.4,20.32,17,20.32,17.5,20.32,18,20.36,15.77,21.57,15.98,21.48,16.13,21.8,16.24,22.1,16.7,21.71,17.1,21.8,17.52,21.76,17.93,21.8,18.24,21.8,18.7,24.27,18.55,24,18.4,23.53,17.97,22.6,20.3,23.66,20.3,22.85,20.25,21.9,20.35,21.15,20.6,23.4,21.1,23.5,21.75,23.75,22,22,21.55,21.8,22.15,20.8,21.65,20.6,23.18,21.9,23.4,22.83,21.45,33.94,24.76,33.73,26.16,33.99,27.19,33.99,27.1,33.45,24.02,33.31,32.44,32.97,32.81,32.27,32.5,31.67,31.52,30.27,31.35,30,29,30.41,28.36,32.78,31.09,34.04,28.45,28.08,28.2,26.87,26.75,27.1,29.18,25.29,25.32,24,27,26.5,27.02,25.06,27.3,25.6,30.66,29.15,19.67,33.13,21.42,33.9,25.23,33.7,24.05,33.28,27.15,33.4,18.83,24.1,18.6,24,20.3,25.07,26.02,19.92,25,19.92,
  23.5,19.9,22.9,19.85,22.3,19.85,21.7,19.82,21.05,19.78,20.4,19.75,19.8,19.73,19.2,19.73,12.7,19.95,12.95,20,13.2,20.2,13.55,20.2,13.9,20.25,14.3,20.27,14.75,20.3,15.2,20.32,15.6,20.3,16.1,20.32,16.7,20.32,17.25,20.32,17.75,20.33,16.45,21.75,16.9,21.78,17.3,21.78,17.7,21.8,20.3,23.3,20.28,22.4,20.25,21.5,20.5,23.6,21.4,23.6,21.9,22,22.2,21.4,21.9,20.6,23.3,22.4,22.8,21.7];
const grassCal60 = [14.95,20.55,15.05,20.37,15.57,20.6,16.08,20.64,16.6,20.67,17.11,20.69,17.63,20.71,18.14,20.74,18.66,20.76,19.17,20.78,19.69,20.83,20.2,20.83,20.71,20.78,21.33,20.74,21.84,20.88,22.36,21.25,22.77,21.8,23.08,22.46,23.29,23.1,23.4,23.5,19.27,20.07,19.78,20.09,20.3,20.15,20.82,20.2,21.33,20.22,21.84,20.27,22.36,20.32,22.87,20.36,23.3,20.4,23.7,20.4,18.35,22,18.8,22.04,19.27,22,19.78,21.95,20.3,21.95,20.82,22,21.22,21.8,21.43,21.43,21.33,21.06,18.98,21.8,19.58,21.8,19.94,24.5,19.8,24.13,19.8,23.57,19.74,23,19.74,22.46,19.85,21.9,19.94,21.43,19.94,21,20.3,24.2,19.22,23.3,19.17,23,19.12,22.74,18.96,22.37,21.16,34.8,24.41,33.9,27.32,35,27.84,35,30.18,35,30.22,34.48,31.13,34.46,30.17,34.1,30.4,34,30.74,33.85,31.1,33.7,31.57,33.9,30.48,33.43,29.44,33.7,23.94,31.4,23.76,31.06,23.37,30.64,23.07,30.45,22.76,30.04,22.5,30,22.55,29.62,22.11,29.3,22.37,29.25,22.3,28.87,22.03,28.4,21.77,27.95,21.55,27.57,21.29,26.73,21.12,26.18,30.05,29.67,30.7,29.43,30.74,30.92,30.7,30.45,30.7,30.1,30.74,28.57,30.61,27.87,28.19,27.25,29.36,26.69,30.66,26.38,29.92,25.57,30.31,25.48,28.57,29.9,25.02,24.36,25.89,25.67,25.89,26.73,26.32,26.41,26.84,26.27,27,25.9,26.84,25.53,27.19,25.57,26.67,25.2,23.55,25.6,23.9,25.8,24.24,26.08,24.6,26.17,
  15.3,20.5,15.85,20.6,16.35,20.65,16.85,20.68,17.4,20.7,17.9,20.72,18.4,20.75,18.9,20.78,19.4,20.8,19.95,20.83,20.45,20.8,21,20.76,21.6,20.8,22.1,21,22.55,21.5,22.95,22.1,23.2,22.8,19.55,20.08,20.05,20.12,20.55,20.17,21.1,20.2,21.6,20.25,22.1,20.3,22.6,20.34,23.1,20.38,18.55,22.02,19.05,22,19.55,21.97,20.05,21.95,20.6,21.98,21.05,21.9,21.35,21.65,21.4,21.25,19.85,24.3,19.78,23.85,19.78,23.3,19.74,22.75,19.8,22.2,19.9,21.65,19.92,21.2,21.75,28.2,22,28.6,22.3,29,22.8,29.6,23.2,30.25,23.55,30.85,21.45,27.2,21.2,26.45,20.3,23.8,23.1,25.2,23.7,25.7,24.05,25.95,25.9,26.2,26.1,26.5,26.6,26.35,23.35,25.4];
const grassCal70 = [23.28,32.41,25.54,32.13,25.5,31.2,25.1,31.1,24.85,31.06,24.4,31,24,30.73,23.8,30.27,23.55,29.71,23.3,29.15,23.03,28.6,22.85,28.17,28.14,32.65,28.84,32.65,29.27,32.41,29.27,31.85,29.1,31.48,29.23,31.2,29.36,30.7,29.53,30.27,29.62,30,29.53,29.71,29.57,29.25,29.62,28.87,28.36,28.9,28.8,28.7,29,28.45,29.53,28.41,29.79,28.3,28.36,29.48,27.97,28,26.4,27.57,26.75,27.48,27,27.62,21.64,23.4,22.24,23.44,22.85,23.48,23.37,23.53,24.07,23.57,24.59,23.76,24.76,24.3,24.4,24.97,24.07,24.42,23.37,24.23,19.32,23.76,19.73,23.9,20.2,23.9,21.64,23.4,22.15,23.3,22.6,23.4,21.55,27.57,21.55,26.83,21.6,26.3,22.5,26.93,22.85,26.83,23.26,32.43,
  23.9,30.5,23.68,30,23.42,29.43,23.17,28.88,22.94,28.4,24.2,30.9,24.6,31.05,21.95,23.42,22.55,23.46,23.1,23.5,23.7,23.55,24.35,23.65,22.7,23.85,23.4,24,22.1,24,21.7,24.2,21.6,25.5,19.5,23.8,19.95,23.9,20.5,23.85,20.9,23.7,21.3,23.55,29.35,32.1,29.15,31.65,29.45,30.45,29.6,29.85,28.55,28.85,29.2,28.4];
const grassCal80 = [29.79,33.53,29.23,33.48,28.75,33.39,29.23,32.92,29.53,33.2,29.62,32.7,29.62,32.13,29.57,31.57,29.62,31.01,29.7,30.36,29.9,33,30,32.5,30.03,31.94,30.07,31.38,30.07,30.73,30,30.18,30.37,32.97,30.4,32.41,30.45,31.85,30.5,31.29,30.55,30.83,30.4,29.95,30.77,32.69,30.77,32.32,30.66,31.57,30.87,31.57,31.04,30.92,31.09,33.01,31.44,33.06,31.61,33.53,31.7,32.97,31.52,32.69,31.52,32.32,31.27,32.04,31.3,31.76,31.61,31.76,31.52,31.34,31.7,31.11,31.8,32.5,31.8,31.94,29.27,31.38,28.97,30.87,24.37,30.8,25.1,30.8,25.37,30.8,25.8,30.97,26.1,31.43,24.9,30.56,24.7,30.08,26.4,30,26.84,30.27,27.19,28.78,27.53,28.97,27.97,28.55,28.49,28.55,27.45,28.04,27.27,27.8,27.23,27.34,28.84,27.85,29.57,27.85,30.4,28.27,28.32,29.94,24.6,29.43,24.24,28.97,23.8,28.4,23.37,28.41,22.42,27.76,22.07,27,21.9,26.36,22.8,26.45,22.2,26.1,24.85,24.78,25.41,24.83,22.33,24.6,22.77,24.6,23.2,25.5,24.07,25.34,23.72,25.06,22.5,25.06,21.64,25.06,21.2,24.9,21.64,24.87,22.07,24.87,23.37,24.87,24.24,25.06,24.41,25.6,24.67,26.17,
  29.72,32.4,29.65,31.85,29.62,31.3,29.65,30.7,29.95,32.75,30.02,32.2,30.07,31.65,30.1,31.05,30.03,30.45,30.38,32.7,30.42,32.13,30.48,31.57,30.53,31.05,30.45,30.4,30.9,32.1,31.3,33.03,31.5,32.9,31.45,32.5,31.65,33.2,31.7,32.7,31.6,32,31.45,31.55,31.85,32.25,31.75,31.4,28.1,29.7,27.7,29.85,27.4,29.6,27,29.2,26.2,29.3,25.9,29.7,26.6,29.6,27.2,28.3,27.6,28.6,26.95,28.5,26.5,28.9,25.95,29,25.1,29.9,24.75,29.65,24.4,29.2,24.05,28.65,23.6,28,22.3,27.4,22.15,26.8,21.95,26.1,21.9,25.7,22.2,25.4,22.9,25.9,23.5,26.3,23.85,26.7,24.35,26.7,24.7,26.55,23.6,25.7,23.2,25.05,24.6,26.2,23.1,26.6];
const grassCal90 = [21.25,27.2,21.8,27.33,22.33,27.41,22.85,27.41,23.37,27.46,23.9,27.5,24.4,27.57,24.93,27.62,25.45,27.76,25.97,28.22,26.32,28.6,26.5,28.97,26.75,29.34,27,29.62,27.19,29.25,27.62,29.62,27.88,29.9,26.32,27.2,25.89,27.1,25.63,27.02,23.81,28.64,23.81,28.22,23.81,27.9,24.15,27.85,24.5,27.85,24.85,27.99,24.41,28.5,24.85,28.6,24.07,28.7,24.15,29.43,24.24,29.9,24.5,30.27,24.93,30.18,25.2,30.08,25.37,30,25.7,30.36,26.06,30.64,26.41,30.92,26.75,31.2,27.1,31.48,27.62,31.67,26.84,30.73,27.27,30.73,27.75,30.73,28.23,30.83,28.66,30.83,27.45,30.36,27.7,30.08,28.14,31.2,28.57,31.48,28.92,31.76,29.1,32.3,27.27,32.46,27.62,32.5,28.05,32.5,28.4,32.5,28.75,32.5,29.1,32.46,27.45,32.04,27.88,32.04,28.23,32.04,28.57,32.04,28.92,32.04,27.53,31.67,27.97,31.67,28.4,31.57,27.97,32.08,26.84,30.73,
  21.5,27.28,22.1,27.38,22.6,27.41,23.1,27.44,23.65,27.48,24.15,27.55,24.7,27.6,25.2,27.7,25.7,27.95,26.15,28.4,26.4,28.8,26.62,29.15,26.85,29.5,27.1,29.4,27.4,29.4,27.75,29.75,25.95,27.05,23.81,28.4,23.81,28.05,24,27.85,24.3,27.85,24.68,27.9,24.1,29,24.1,29.2,24.2,29.65,24.35,30.1,24.7,30.25,25.05,30.12,25.55,30.2,25.9,30.5,26.25,30.78,26.6,31.05,26.9,31.35,27.35,31.58,27.05,30.75,27.5,30.73,28,30.8,28.45,30.83,27.9,31.3,28.35,31.35,28.75,31.65,29,32,27.45,32.25,27.85,32.25,28.25,32.25,28.65,32.25,29,32.25,27.7,31.85,28.1,31.8,28.5,31.8,26.1,30.35,26.5,30.6];
const grassCal100 = [24.85,29.9,25.02,29.71,25.37,29.9,25.71,29.71,26.15,29.71,25.02,29.34,25.1,28.78,25.2,28.22,25.24,27.85,25.37,29.34,25.45,28.78,25.54,28.22,25.63,27.76,25.71,29.34,25.8,28.78,25.84,28.22,25.89,27.67,26.15,29.34,26.19,28.78,26.15,28.22,26.02,27.57,24.93,27.57,24.5,27.2,24.07,27.02,23.63,26.73,23.2,26.36,22.76,25.99,22.42,25.53,22.07,25.71,21.55,25.99,21.12,25.8,20.86,25.25,25.63,27.39,25.37,27.1,25.1,26.73,25.45,26.64,25.02,26.45,23.98,26.41,25.41,26.18,24.85,25.9,24.5,25.53,24.07,25.15,23.72,24.97,23.33,24.6,22.76,24.32,25.37,25.3,24.85,25.06,21.5,24.73,21.9,24.64,21.2,24.41,20.86,24.13,23.03,24.69,20.77,23.95,21.29,23.9,21.8,23.85,22.33,23.62,22.85,23.81,23.37,23.81,23.9,23.76,24.33,23.8,20.77,24.97,20.77,24.5,21.03,25.8,20.9,25.53,
  25.05,29.55,25.08,29.05,25.15,28.5,25.22,28.05,25.4,29.6,25.42,29.05,25.5,28.5,25.58,28,25.75,29.55,25.82,29.05,25.86,28.5,25.9,28,26.15,29.55,26.18,29.05,26.18,28.5,26.1,27.9,24.7,27.38,24.3,27.1,23.85,26.9,23.4,26.55,22.98,26.2,22.6,25.75,22.25,25.55,21.85,25.85,21.35,25.9,20.98,25.6,25.85,27.55,25.5,27.3,25.25,26.9,25.3,26.55,24.7,26.3,24.3,26.15,25.2,26,24.7,25.75,24.3,25.35,23.9,25.05,23.5,24.75,23.05,24.45,22.5,24.15,25.15,25.5,25.45,25.85,21.75,24.7,21.3,24.55,21.05,24.2,20.85,23.7,21.55,23.88,22.05,23.75,22.6,23.7,23.1,23.8,23.65,23.78,24.1,23.78,20.8,24.7,20.95,25.7];

const grassVal10 = [2.07,5.69,2.32,5.77,2.14,5.97,2.57,5.91,2.82,6.2,3.07,6.34,3.45,6.34,3.4,6.76,3.58,7.05,3.83,7.33,4.08,7.6,4.2,7.9,4.4,8.18,4.08,6.9,4.46,7.33,4.4,6.48,4.08,6.48,3.83,6.76,3.53,8.6,4.08,8.88,4.46,8.6,4.86,8.97,4.84,9.54,5.14,9.73,5.42,10.3,5.42,10.6,5.67,10.87,6.12,11.86,6.62,11.49,6.4,9.22,5.84,7.7,5.34,6.76,5.6,6.82,7.6,8.46,8.11,10.67,8.49,7.33,12.14,8.4,7.8,12.37,8.87,13.19,9.82,29.8,14.58,29.77,15.42,24.56,16.95,22.86,17.9,22.47,12.2,16.8,10.63,15.3,12.1,14.97,15.6,18.85,13.9,18.2,13.82,17.8,13.96,17.37,14.03,17.28,14.7,16.24,16,20.2,16.9,20.3,24.45,28.4,
  2.3,5.7,2.55,5.75,2.75,6,3.3,6.3,3.6,6.55,3.95,7.1,3.65,6.85,4.2,6.7,4.25,7.3];
const grassVal20 = [9.27,16.1,9.4,15.73,9.37,15.05,9.22,14.83,9.09,14.4,9.17,14.7,8.99,13.98,8.6,13.55,8.35,13.4,7.98,13.27,7.8,13.78,7.72,13.55,7.6,13.27,7.35,13,7.1,12.62,7.49,12.85,7.85,13.05,8.48,13.4,9.5,14.1,10.1,13.55,9.75,14.4,10.1,14.83,10.37,15.62,10.63,14.97,10.75,15.1,10.83,13.92,10.63,14.4,11,14.54,11.68,14.46,12.06,14.97,11.88,15.54,12,15.54,12.34,15.3,12.82,15.65,13,16.1,13.32,15.96,14.03,16.38,14.46,16.86,14.66,17,15.2,17.5,15.72,17.97,16.05,17.88,16.47,18.42,17.25,18.87,17.18,19.21,17.86,19.78,18.56,20,18.44,20.5,19.07,21.05,19.7,21.4,19.45,23.3,18.82,22.33,20.13,27.33,13.7,29.97,14.6,29.97,22.47,24.67,20.96,22.95,25.24,27.28,
  7.25,12.8,7.7,13.1,8.1,13.2,8.8,13.6,9.15,13.8,9.3,14.3,9.5,14.6,10.3,14.2,10.25,14.5];
const grassVal30 = [14.94,35.77,16.88,35.77,29.42,33.28,26.73,32.68,25.52,32,23.78,31.9,10.63,18.03,10.88,18.3,11.08,18.58,11.38,18.77,11.76,19.06,12.14,19.35,12.65,19.55,13.15,19.78,13.65,20.07,13,20.35,13.38,20.63,13.75,20.97,14.2,21.14,14.84,21.36,15.64,21.62,16.73,21.9,17.98,22.33,18.44,21.9,18.94,22.19,19.32,22.75,19.57,22.9,14.66,20.5,15.6,20.78,16.5,21.2,17.38,21.48,17.8,21.7,20.08,23.3,20.58,23.6,21.2,24.3,21.58,24.86,22.08,25.15,23.98,27.76,22.85,25.58,25.1,29.26,23.6,27.3,13.4,15.48,13.65,15.11,13.83,14.83,13.9,14.54,
  10.75,18.15,11.22,18.67,11.55,18.9,11.95,19.2,12.4,19.45,12.9,19.67,13.4,19.95,13.2,20.5,13.55,20.8,14,21.05,14.5,21.25,14.25,20.35,15.1,20.65,16.05,21,16.95,21.35,19.75,23.1,20.35,23.4,20.9,23.95];
const grassVal40 = [16.6,32.54,14.46,30.67,26.63,29.46,28.5,29.97,30.53,30.1,29.65,28.33,13.65,13.27,14.03,13.19,14.4,13.13,14.66,12.99,14.8,12.85,11.08,17.35,11.38,17.57,11.76,17.8,12.14,18.14,12.5,18.42,12.9,18.79,13.4,18.93,13.78,19.07,14.28,19.2,14.78,19.43,15.42,19.63,15.92,19.77,16.3,20.05,16.93,20.2,17.68,20.48,18.33,20.88,18.96,21.45,19.46,21.97,19.83,22.55,20.2,23.13,20.33,23.55,20.83,24.45,16.05,20.6,16.8,20.83,17.58,21.08,18.33,21.3,20.38,22.38,20.83,22.9,21.2,23.3,21.6,24,22.1,24.7,21.8,28.2,
  11.25,17.45,11.58,17.7,11.95,17.95,12.3,18.3,12.7,18.6,13.15,18.87,13.6,19,14.02,19.12,14.55,19.3,15.1,19.55,15.68,19.7,16.1,19.9,16.6,20.13,17.3,20.33,18,21.05,18.65,21.15,19.2,21.7,19.65,22.25,20,22.85,20.52,23.85,20.68,24.15,16.45,20.7,17.2,20.95,17.95,21.2];
const grassVal50 = [15.5,22.8,15.93,23,16.42,23.2,16.93,23.43,17.43,23.57,17.93,23.8,18.44,24,18.8,24.87,19.44,25.01,20.08,25.2,20.58,25.37,21.08,25.15,19.94,24.6,18.94,24,19.94,24.37,22.85,27,23.35,27.14,23.85,27.28,22.1,27.7,22.6,28.84,23.1,29.69,23.73,30.25,18.7,18.7,19.07,18.7,19.5,18.76,19.83,18.93,20.07,19.27,20.58,18.7,30.73,28.98,31.16,28.5,29.52,28,26.32,30.05,30.15,30.03,
  15.7,22.9,16.15,23.1,16.65,23.3,17.2,23.5,17.7,23.7,18.2,23.9,18.7,24.1,19.15,24.95,19.75,25.1,20.3,25.3,19.4,24.3,19.1,24.65,22.3,28.3,22.85,29.3,23.4,30,22.35,27.85,22.6,28,21.8,27.3,22.1,28.2];
const grassVal60 = [18.26,23.17,18.69,23.46,19.07,23.74,19.57,23.94,20.08,24.3,20.45,24.6,20.83,25.31,21.08,25.88,21.58,26.3,22.08,26.43,22.7,26.43,21.46,27,21.71,27.84,21.97,28.55,22.2,29.26,22.46,29.97,22.71,30.25,23.1,30.48,23.35,30.73,23.35,30,20.33,19.27,20.7,19.27,22,19.2,24.15,31.04,28.2,29.63,28.3,28.5,28.34,31.24,31.3,31.38,30.4,30.96,30.8,28.5,31.1,26.2,30.96,25.55,30.76,22.95,26.42,26.34,
  18.47,23.3,18.88,23.6,19.3,23.85,19.82,24.12,20.28,24.45,20.65,24.95,20.95,25.6,21.33,26.1,21.82,26.37,22.4,26.43,21.58,27.4,21.85,28.2,22.08,28.9,22.33,29.6,22.58,30.1,22.9,30.35,21.25,26.5];
const grassVal70 = [30,31.55,29.47,31.38,29.77,30.67,29.7,29.97,29.14,28.6,29.27,27.76,29.14,24.6,22.8,22.5,22.94,22.33,23.65,22.47,21.1,26.5,21.46,26.6,23.2,27.98,23.45,28.68,23.7,29.4,24.1,29.97,24.48,30.53,24.85,31.04,25.24,31.15,24.6,28.98,
  23.33,28.33,23.58,29.05,23.9,29.68,24.3,30.25,24.66,30.8,25.05,31.1,25.4,31.1];
const grassVal80 = [31.15,31.75,30.9,31.52,30.4,31.47,30.15,30.9,29.85,30.3,29.52,28.9,29.14,28.5,30.6,28.04,30.55,27.2,30.5,26.06,30.4,24.68,30.05,23.94,23.05,23.94,23.4,23.94,23.93,23.94,21.79,27,22.35,27.28,22.85,27.7,23.35,28.13,23.73,28.84,24.1,29.4,24.6,29.97,25.1,30.67,25.48,31.04,26,31.24,23.85,28.26,24.35,29,25.1,29,24.6,29.2,
  22.05,27.12,22.6,27.48,23.1,27.9,23.55,28.5,23.92,29.1,24.35,29.68,24.85,30.33,25.3,30.85,25.75,31.15,24.1,28.65,24.8,29,25.35,28.95];
const grassVal90 = [24.1,29.54,24.6,29.69,25.1,29.97,25.6,30.25,25.98,30.67,26.48,30.96,27.1,31.04,27.5,31.04,26.6,31.24,27.1,31.43,27.6,31.66,28.1,31.8,28.5,32.1,28,30.96,28.3,30.96,28.3,30.3,28.23,29.63,28.26,28.5,28.29,26.9,28.2,25.98,26.1,26,
  24.35,29.6,24.85,29.83,25.35,30.1,25.8,30.45,26.22,30.82,26.75,31,27.3,31.04,26.35,31.1,26.85,31.33,27.35,31.55,27.85,31.73,28.3,31.95,27.75,31,25.9,30.85,26.15,31,24.6,29.85,25.1,30.2];
const grassVal100 = [21.7,25.38,22.2,25.58,22.7,25.87,23.2,26,23.7,26.43,24.2,26.43,24.6,26.85,24.85,27.56,25.24,27.7,25.48,28.13,25.6,28.7,25.68,28.84,25.1,27.84,24.85,26.43,25.37,27,25.6,26.8,25.6,26,25.6,25.2,25.6,24.17,25.5,23.37,25.4,23.17,23.6,23.17,23.93,23.46,23.85,23.17,
  21.95,25.48,22.45,25.72,22.95,25.93,23.45,26.2,23.95,26.43,24.4,26.6,24.72,27.2,25.05,27.65,25.36,27.9,25.55,28.4,24.6,27.45,25.1,26.85,25.3,26.4,24.85,26.75,24.35,26.6,24.1,26.2,25.2,27.3];

const teaTicks = [20, 25, 30, 35, 40, 45, 50];
const teaMinor = [22.5, 27.5, 32.5, 37.5, 42.5, 47.5];
const grassTicks = [0, 5, 10, 15, 20, 25, 30, 35];
const grassMinor = [2.5, 7.5, 12.5, 17.5, 22.5, 27.5, 32.5];

const panels = [
  { title: 'Calibration period of tea garden', titleX: 380, titleY: 269, titleSize: 71.7, stats: ['=0.806', 'RMSE=0.01824', 'MAE=0.0144'], statX: 1009, statY: [1170, 1240, 1312], domain: [20, 52.5], ticks: teaTicks, minor: teaMinor, xr: [200.7, 1642], yr: [1485, 46], pad: 36, tickSize: 58, yLabels: true, lineOnTop: true, series: [teaCal10, teaCal20, teaCal30, teaCal40, teaCal50, teaCal60, teaCal70, teaCal80, teaCal90, teaCal100], legend: null },
  { title: 'Validation period of tea garden', titleX: 1960, titleY: 267, titleSize: 72.2, stats: ['=0.739', 'RMSE=0.0220', 'MAE=0.0166'], statX: 2399, statY: [1162, 1232, 1304], domain: [20, 52.5], ticks: teaTicks, minor: teaMinor, xr: [1642, 3085], yr: [1485, 46], pad: 36, tickSize: 58, yLabels: false, lineOnTop: true, series: [teaVal10, teaVal20, teaVal30, teaVal40, teaVal50, teaVal60, teaVal70, teaVal80, teaVal90, teaVal100], legend: { x: 2848, tx: 2913, y: 778, step: 70.7 } },
  { title: 'Calibration period of grassland', titleX: 325, titleY: 1796, titleSize: 74, stats: ['=0.809', 'RMSE=0.0341', 'MAE=0.0278'], statX: 1133, statY: [2756, 2825, 2898], domain: [0, 37.5], ticks: grassTicks, minor: grassMinor, xr: [202, 1643], yr: [3098, 1658], pad: 50, tickSize: 60, yLabels: true, lineOnTop: false, series: [grassCal10, grassCal20, grassCal30, grassCal40, grassCal50, grassCal60, grassCal70, grassCal80, grassCal90, grassCal100], legend: null },
  { title: 'Validation period of grassland', titleX: 1765, titleY: 1797, titleSize: 74.7, stats: ['=0.878', 'RMSE=0.0473', 'MAE=0.0425'], statX: 2354, statY: [2773, 2843, 2914], domain: [0, 37.5], ticks: grassTicks, minor: grassMinor, xr: [1642, 3085], yr: [3098, 1658], pad: 50, tickSize: 60, yLabels: false, lineOnTop: false, series: [grassVal10, grassVal20, grassVal30, grassVal40, grassVal50, grassVal60, grassVal70, grassVal80, grassVal90, grassVal100], legend: { x: 2843, tx: 2920, y: 2429, step: 66.3 } },
];

const pairs = (flat: number[]) => d3.range(0, flat.length, 2).map(i => [flat[i], flat[i + 1]]);

const App: React.FC = () => {
  const svgRef = useRef<SVGSVGElement>(null);

  useEffect(() => {
    if (!svgRef.current) return;
    const svg = d3.select(svgRef.current);
    svg.selectAll('*').remove();

    // shaded balls
    const defs = svg.append('defs');
    depths.forEach((d, i) => {
      const g = defs.append('radialGradient').attr('id', `ball-${i}`)
        .attr('cx', '0.46').attr('cy', '0.42').attr('r', '0.55');
      g.append('stop').attr('offset', '0%').attr('stop-color', glowColors[i]);
      g.append('stop').attr('offset', i === 8 ? '30%' : '25%').attr('stop-color', glowColors[i]);
      g.append('stop').attr('offset', '62%').attr('stop-color', baseColors[i]);
      g.append('stop').attr('offset', '100%').attr('stop-color', baseColors[i]);
    });

    panels.forEach(p => {
      const x = d3.scaleLinear().domain(p.domain).range(p.xr);
      const y = d3.scaleLinear().domain(p.domain).range(p.yr);
      const root = svg.append('g');

      const drawLine = () => {
        const line = d3.line<number>().x(d => x(d)).y(d => y(d));
        root.append('path').attr('d', line(p.domain)).attr('fill', 'none')
          .attr('stroke', '#f93f3f').attr('stroke-width', 7).attr('stroke-dasharray', '16 8');
        root.append('path').attr('d', line(p.domain)).attr('fill', 'none')
          .attr('stroke', '#f93f3f').attr('stroke-width', 1.5).attr('stroke-dasharray', '2 3');
      };

      if (!p.lineOnTop) drawLine();

      p.series.forEach((flat, i) => {
        root.append('g').selectAll('circle').data(pairs(flat)).join('circle')
          .attr('cx', d => x(d[0]))
          .attr('cy', d => y(d[1]))
          .attr('r', 10)
          .attr('fill', `url(#ball-${i})`);
      });

      if (p.lineOnTop) drawLine();

      // axes, ticks point inward
      const bottom = p.yr[0];
      const left = p.xr[0];
      const xMinor = root.append('g').attr('transform', `translate(0,${bottom})`)
        .call(d3.axisBottom(x).tickValues(p.minor).tickSize(-14).tickFormat(() => ''));
      const xMajor = root.append('g').attr('transform', `translate(0,${bottom})`)
        .call(d3.axisBottom(x).tickValues(p.ticks).tickSize(-27).tickPadding(p.pad));
      const yMinor = root.append('g').attr('transform', `translate(${left},0)`)
        .call(d3.axisLeft(y).tickValues(p.minor).tickSize(-14).tickFormat(() => ''));
      const yAxis = d3.axisLeft(y).tickValues(p.ticks).tickSize(-27).tickPadding(30);
      if (!p.yLabels) yAxis.tickFormat(() => '');
      const yMajor = root.append('g').attr('transform', `translate(${left},0)`).call(yAxis);

      [xMinor, xMajor, yMinor, yMajor].forEach(a => {
        a.select('.domain').remove();
        a.selectAll('line').attr('stroke', '#000').attr('stroke-width', 7);
        a.selectAll('text')
          .attr('fill', '#000')
          .style('font-family', FONT)
          .style('font-size', `${p.tickSize}px`);
      });

      root.append('rect')
        .attr('x', p.xr[0]).attr('y', p.yr[1])
        .attr('width', p.xr[1] - p.xr[0]).attr('height', p.yr[0] - p.yr[1])
        .attr('fill', 'none').attr('stroke', '#000').attr('stroke-width', 8);

      root.append('text').attr('x', p.titleX).attr('y', p.titleY)
        .style('font-family', FONT).style('font-size', `${p.titleSize}px`)
        .text(p.title);

      const r2 = root.append('text').attr('x', p.statX).attr('y', p.statY[0])
        .style('font-family', FONT).style('font-size', '57.7px');
      r2.append('tspan').text('R');
      r2.append('tspan').attr('dy', -24).style('font-size', '36px').text('2');
      r2.append('tspan').attr('dy', 24).attr('dx', 10).text(p.stats[0]);
      [1, 2].forEach(k => {
        root.append('text').attr('x', p.statX).attr('y', p.statY[k])
          .style('font-family', FONT).style('font-size', '57.7px')
          .text(p.stats[k]);
      });

      if (p.legend) {
        const lg = p.legend;
        const rows = root.append('g').selectAll('g').data(depths).join('g')
          .attr('transform', (_, i) => `translate(0,${lg.y + i * lg.step})`);
        rows.append('circle').attr('cx', lg.x).attr('cy', 0).attr('r', 9.5)
          .attr('fill', (_, i) => `url(#ball-${i})`);
        rows.append('text').attr('x', lg.tx).attr('y', 19)
          .style('font-family', FONT).style('font-size', '55.5px')
          .text(d => d);
      }
    });

    svg.append('text').attr('transform', 'translate(82,767) rotate(-90)')
      .attr('text-anchor', 'middle').style('font-family', FONT).style('font-size', '70px').text('Simulated');
    svg.append('text').attr('transform', 'translate(81,2378) rotate(-90)')
      .attr('text-anchor', 'middle').style('font-family', FONT).style('font-size', '70px').text('Simulated');
    svg.append('text').attr('x', 1614).attr('y', 3295)
      .attr('text-anchor', 'middle').style('font-family', FONT).style('font-size', '70px').text('Measured');
  }, []);

  return (
    <svg
      ref={svgRef}
      width={W}
      height={H}
      viewBox={`0 0 ${W} ${H}`}
      style={{ position: 'absolute', left: 0, top: 0, background: '#fff' }}
    />
  );
};

export default App;
